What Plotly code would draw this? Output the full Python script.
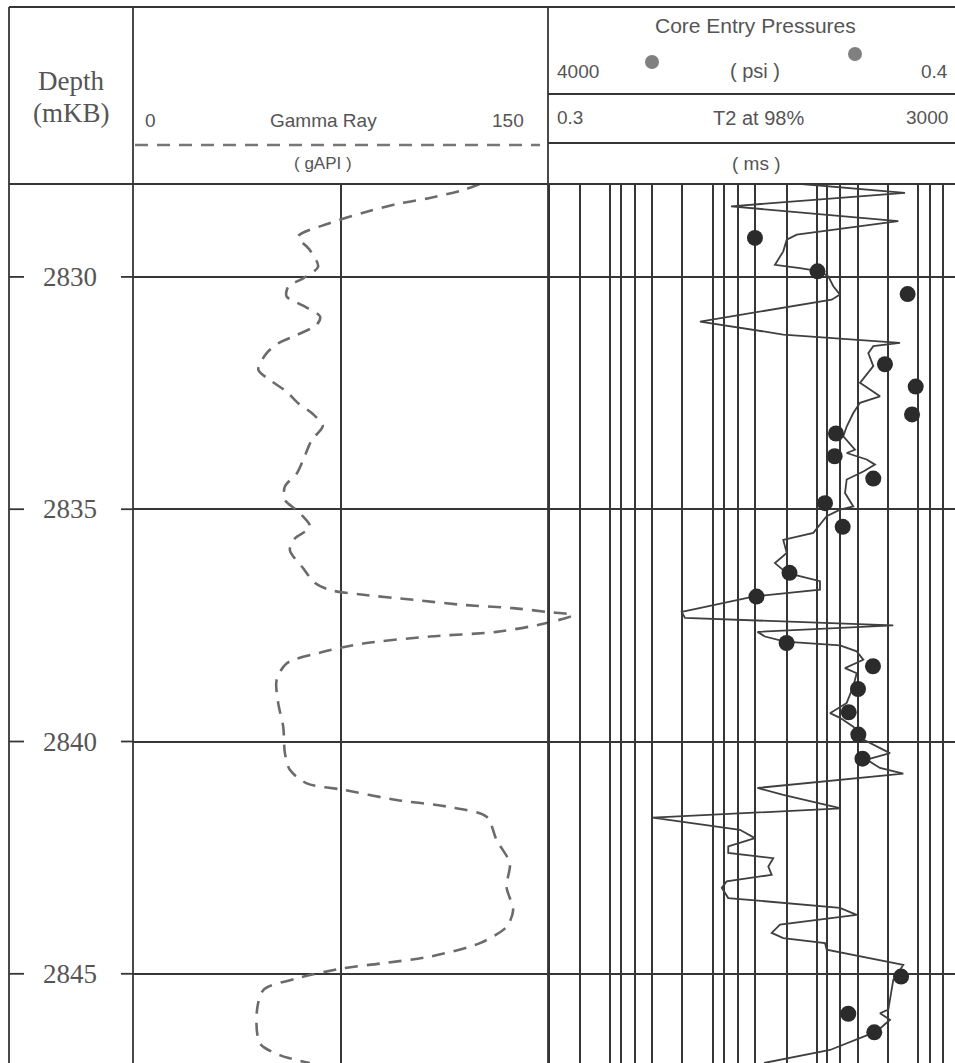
import numpy as np
import plotly.graph_objects as go

# ---------------- data ----------------
gr_depth = [2828.00, 2828.13, 2828.30, 2828.43, 2828.62, 2828.84, 2829.13, 2829.42, 2829.78, 2830.03,
            2830.21, 2830.42, 2830.62, 2830.85, 2831.03, 2831.25, 2831.43, 2831.64, 2832.00, 2832.22,
            2832.47, 2832.72, 2832.93, 2833.21, 2833.51, 2833.94, 2834.23, 2834.51, 2834.80, 2835.05,
            2835.38, 2835.63, 2835.88, 2836.27, 2836.59, 2836.74, 2836.84, 2836.95, 2837.06, 2837.13,
            2837.21, 2837.28, 2837.47, 2837.64, 2837.74, 2837.89, 2838.07, 2838.32, 2838.68, 2839.18,
            2839.68, 2840.25, 2840.61, 2840.90, 2841.04, 2841.26, 2841.40, 2841.62, 2842.12, 2842.62,
            2843.13, 2843.63, 2843.99, 2844.34, 2844.63, 2844.78, 2844.88, 2845.10, 2845.35, 2845.85,
            2846.50, 2846.75, 2846.92]
gr_gapi = [125.3, 119.4, 107.3, 95.3, 83.2, 71.2, 59.7, 63.9, 66.9, 61.5,
           56.1, 55.5, 61.5, 67.6, 66.4, 59.2, 52.5, 48.3, 45.3, 49.5,
           55.5, 59.7, 64.6, 68.6, 64.6, 61.5, 59.2, 54.9, 54.9, 59.7,
           64.0, 58.5, 56.7, 61.5, 65.8, 71.2, 83.2, 101.3, 119.4, 137.4,
           149.5, 159.0, 148.0, 131.4, 107.3, 83.2, 68.8, 55.5, 51.9, 52.5,
           54.3, 54.9, 56.7, 62.8, 76.0, 95.3, 113.4, 127.8, 131.4, 136.2,
           135.0, 137.4, 135.0, 125.4, 107.3, 89.3, 76.0, 59.2, 47.1, 44.7,
           45.9, 53.0, 63.9]

t2_depth = [2828.00, 2828.19, 2828.48, 2828.80, 2829.09, 2829.20, 2829.45, 2829.74, 2829.81, 2829.88,
            2829.99, 2830.20, 2830.38, 2830.49, 2830.96, 2831.24, 2831.42, 2831.49, 2831.64, 2831.92,
            2832.28, 2832.57, 2832.71, 2832.93, 2833.22, 2833.43, 2833.72, 2833.79, 2833.93, 2834.04,
            2834.19, 2834.36, 2834.65, 2834.94, 2835.01, 2835.15, 2835.51, 2835.66, 2835.94, 2836.16,
            2836.37, 2836.55, 2836.73, 2836.88, 2837.21, 2837.34, 2837.50, 2837.64, 2837.74, 2837.85,
            2837.93, 2838.06, 2838.24, 2838.42, 2838.53, 2838.81, 2839.17, 2839.39, 2839.49, 2839.68,
            2839.96, 2840.25, 2840.39, 2840.57, 2840.69, 2841.00, 2841.15, 2841.44, 2841.64, 2841.90,
            2842.08, 2842.26, 2842.40, 2842.51, 2842.69, 2842.87, 2843.01, 2843.15, 2843.37, 2843.58,
            2843.73, 2843.94, 2844.12, 2844.23, 2844.34, 2844.48, 2844.81, 2845.13, 2845.77, 2845.85,
            2845.99, 2846.24, 2846.64, 2846.92]
t2_ms = [88.1, 891, 18.1, 767, 78.8, 63.0, 58.3, 48.4, 84.8, 132.7,
         159.8, 178.8, 207.8, 172.5, 9.03, 58.3, 796.5, 438, 391.6, 438,
         325.2, 508.9, 325.2, 279.9, 241.4, 223.7, 290.7, 241.4, 377.8, 455,
         350.1, 241.4, 232.4, 279.9, 207.8, 154.2, 114.3, 58.3, 63.0, 48.4,
         63.0, 132.7, 132.7, 29.8, 6.0, 6.45, 685.5, 32.7, 38.7, 60.6,
         207.8, 302, 350.1, 232.4, 302, 279.9, 241.4, 166.1, 207.8, 279.9,
         350.1, 636.6, 377.8, 508.9, 857.8, 32.7, 58.3, 212.5, 3.12, 22.1,
         30.9, 17.0, 17.0, 46.6, 41.7, 45.0, 16.4, 14.7, 17.0, 207.8,
         302, 54.2, 45.0, 58.3, 148.5, 154.2, 857.8, 685.5, 612.9, 508.9,
         636.6, 472.7, 166.1, 37.9]

cep_depth = [2829.16, 2829.88, 2830.37, 2831.88, 2832.36, 2832.96, 2833.37, 2833.86, 2834.34, 2834.87,
             2835.38, 2836.37, 2836.88, 2837.88, 2838.38, 2838.87, 2839.37, 2839.85, 2840.37, 2845.06,
             2845.86, 2846.26]
cep_psi = [38.8, 9.56, 1.27, 2.11, 1.06, 1.15, 6.32, 6.51, 2.74, 8.08,
           5.44, 17.9, 37.5, 19.1, 2.76, 3.86, 4.75, 3.83, 3.49, 1.47,
           4.80, 2.68]

depth_ticks = [2830, 2835, 2840, 2845]
depth_labels = ["2830", "2835", "2840", "2845"]
gr_grid = [75]
t2_grid = [0.31, 0.61, 1.2, 1.55, 2.1, 3.1, 6.1, 12, 15.5, 21,
           31, 64, 125, 155, 210, 310, 610, 1200, 1550, 2100]

# ---------------- geometry (page pixels) ----------------
PAGE_W, PAGE_H = 955, 1063
X_LEFT, X_DEPTH, X_GR, X_RIGHT = 9, 133, 548, 955
Y_TOP, Y_HEAD = 7, 184
GR_EXT = 580               # gamma curve may overshoot its track
DECADE_PX = 102.8          # log decade width in the T2 track
DEPTH_TOP, DEPTH_BOT = 2828.0, 2846.92


def px(x):
    return x / PAGE_W


def py(y):
    return 1 - y / PAGE_H


GRID = "#363636"
TXT = "#555555"

fig = go.Figure()
fig.add_trace(go.Scatter(
    x=gr_gapi, y=gr_depth, xaxis="x", yaxis="y", mode="lines",
    line=dict(color="#6b6b6b", width=2.6, dash="13px,9px", shape="spline", smoothing=0.8),
    hoverinfo="skip"))
fig.add_trace(go.Scatter(
    x=t2_ms, y=t2_depth, xaxis="x2", yaxis="y", mode="lines",
    line=dict(color="#3f3f3f", width=1.8), hoverinfo="skip"))
fig.add_trace(go.Scatter(
    x=cep_psi, y=cep_depth, xaxis="x3", yaxis="y", mode="markers",
    marker=dict(color="#2b2b2b", size=16, line=dict(width=0)), cliponaxis=False,
    hoverinfo="skip"))

span = (X_RIGHT - X_GR) / DECADE_PX
gr_max = 150 * (GR_EXT - X_DEPTH) / (X_GR - X_DEPTH)

fig.update_layout(
    width=PAGE_W, height=PAGE_H, margin=dict(l=0, r=0, t=0, b=0),
    paper_bgcolor="white", plot_bgcolor="rgba(0,0,0,0)", showlegend=False,
    xaxis=dict(domain=[px(X_DEPTH), px(GR_EXT)], range=[0, gr_max], tickvals=gr_grid,
               showgrid=True, gridcolor=GRID, gridwidth=2, showticklabels=False,
               zeroline=False, showline=False, ticks="", anchor="y"),
    xaxis2=dict(domain=[px(X_GR), 1], type="log",
                range=[np.log10(0.3), np.log10(0.3) + span], tickvals=t2_grid,
                showgrid=True, gridcolor=GRID, gridwidth=1.8, showticklabels=False,
                zeroline=False, showline=False, ticks="", anchor="y"),
    xaxis3=dict(overlaying="x2", type="log",
                range=[np.log10(4000), np.log10(4000) - span], visible=False, anchor="y"),
    yaxis=dict(domain=[0, py(Y_HEAD)], range=[DEPTH_BOT, DEPTH_TOP], tickvals=depth_ticks,
               showgrid=True, gridcolor=GRID, gridwidth=2, showticklabels=False,
               zeroline=False, showline=False, ticks=""),
)

shapes = []


def hline(y, x0, x1, color=GRID, width=1.8, dash=None):
    d = dict(type="line", xref="paper", yref="paper", x0=px(x0), x1=px(x1), y0=py(y), y1=py(y),
             line=dict(color=color, width=width))
    if dash:
        d["line"]["dash"] = dash
    shapes.append(d)


def vline(x, y0, y1, color=GRID, width=1.8):
    shapes.append(dict(type="line", xref="paper", yref="paper", x0=px(x), x1=px(x),
                       y0=py(y0), y1=py(y1), line=dict(color=color, width=width)))


hline(Y_TOP, X_LEFT, X_RIGHT)
hline(Y_HEAD, X_LEFT, X_RIGHT, width=2)
hline(94, X_GR, X_RIGHT)
hline(143, X_GR, X_RIGHT)
hline(145, X_DEPTH + 2, 540, color="#777777", width=2.4, dash="13px,9px")
vline(X_LEFT, Y_TOP, PAGE_H)
vline(X_DEPTH, Y_TOP, PAGE_H)
vline(X_GR, Y_TOP, PAGE_H)

for d in depth_ticks:
    for a, b in [(X_LEFT, 24), (121, X_DEPTH)]:
        shapes.append(dict(type="line", xref="paper", yref="y", x0=px(a), x1=px(b), y0=d, y1=d,
                           line=dict(color=GRID, width=1.8)))

for cx, cy in [(652, 62), (855, 54)]:
    shapes.append(dict(type="circle", xref="paper", yref="paper", xsizemode="pixel",
                       ysizemode="pixel", xanchor=px(cx), yanchor=py(cy), x0=-7, x1=7, y0=-7, y1=7,
                       fillcolor="#808080", line=dict(width=0)))

fig.update_layout(shapes=shapes)

SANS = "Liberation Sans, Arial, sans-serif"
SERIF = "Liberation Serif, Times New Roman, serif"
ann = []


def text(t, x, y, size=20, font=SANS, anchor="center", color=TXT):
    ann.append(dict(text=t, x=px(x), y=py(y), xref="paper", yref="paper", showarrow=False,
                    xanchor=anchor, yanchor="middle", font=dict(family=font, size=size, color=color)))


text("Depth", 71, 81, size=27, font=SERIF)
text("(mKB)", 71, 113, size=27, font=SERIF)
text("0", 143, 121, anchor="left", size=19)
text("Gamma Ray", 323, 121, size=19)
text("150", 526, 121, anchor="right", size=19)
text("( gAPI )", 323, 163, size=17)
text("Core Entry Pressures", 755, 26, size=21)
text("4000", 555, 71, anchor="left", size=19)
text("( psi )", 755, 71, size=20)
text("0.4", 950, 71, anchor="right", size=19)
text("0.3", 555, 118, anchor="left", size=19)
text("T2 at 98%", 758, 118, size=20)
text("3000", 950, 118, anchor="right", size=19)
text("( ms )", 756, 163, size=19)

for d, lab in zip(depth_ticks, depth_labels):
    ann.append(dict(text=lab, x=px(70), y=d, xref="paper", yref="y", showarrow=False,
                    xanchor="center", yanchor="middle",
                    font=dict(family=SERIF, size=27, color=TXT)))

fig.update_layout(annotations=ann)
fig.write_html(
    "out.html",
    config={"displayModeBar": False},
    post_script="document.body.style.margin='0';document.body.style.overflow='hidden';",
)
